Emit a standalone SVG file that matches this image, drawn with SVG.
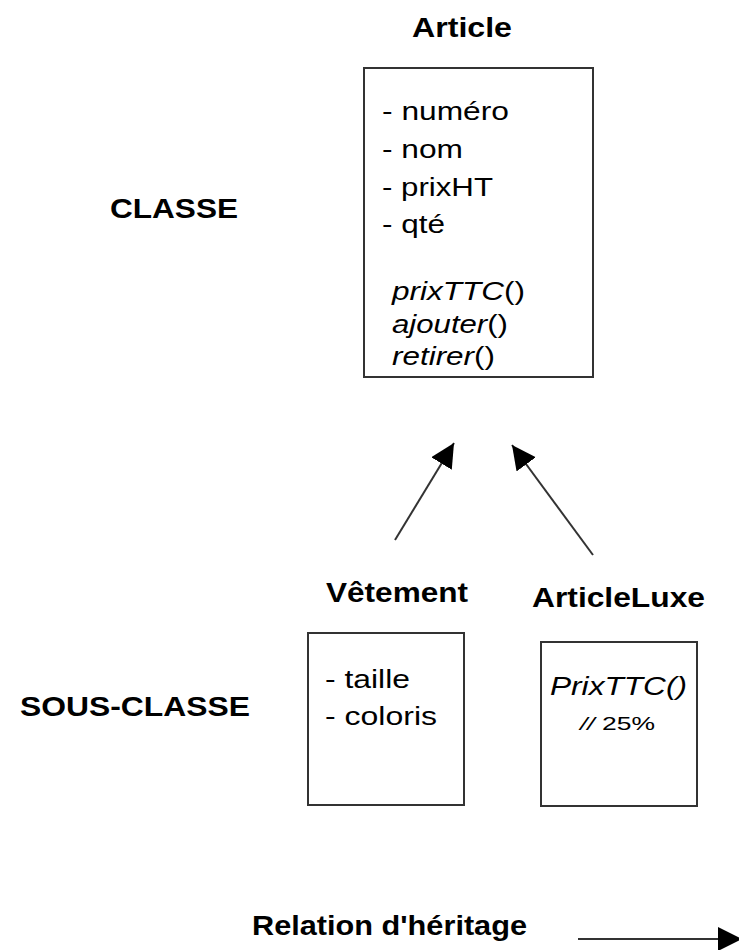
<svg xmlns="http://www.w3.org/2000/svg" width="739" height="950" viewBox="0 0 739 950">
<style>
.box{fill:#fff;stroke:#333;stroke-width:2}
.t{font-family:"Liberation Sans",Arial,sans-serif;fill:#000}
.b{font-weight:bold;font-size:28px}
.r{font-size:25.5px}
.i{font-style:italic}
.c{stroke:#333;stroke-width:2;fill:none}
</style>
<defs>
<marker id="ah" markerUnits="userSpaceOnUse" markerWidth="26" markerHeight="26" refX="24" refY="12" orient="auto">
<path d="M0,0 L24,12 L0,24 z" fill="#000"/>
</marker>
</defs>
<rect width="739" height="950" fill="#fff"/>
<text class="t b" x="110" y="218" font-size="29" textLength="128" lengthAdjust="spacingAndGlyphs">CLASSE</text>
<text class="t b" x="20" y="716" textLength="230" lengthAdjust="spacingAndGlyphs">SOUS-CLASSE</text>
<g id="article">
<text class="t b" x="412" y="37" textLength="100" lengthAdjust="spacingAndGlyphs">Article</text>
<rect class="box" x="364" y="68" width="229" height="309"/>
<text class="t r" x="382" y="120" textLength="127" lengthAdjust="spacingAndGlyphs">- numéro</text>
<text class="t r" x="382" y="158" textLength="81" lengthAdjust="spacingAndGlyphs">- nom</text>
<text class="t r" x="382" y="196" textLength="111" lengthAdjust="spacingAndGlyphs">- prixHT</text>
<text class="t r" x="382" y="233" textLength="63" lengthAdjust="spacingAndGlyphs">- qté</text>
<text class="t r" x="392" y="300" textLength="133" lengthAdjust="spacingAndGlyphs"><tspan class="i">prixTTC</tspan>()</text>
<text class="t r" x="392" y="333" textLength="116" lengthAdjust="spacingAndGlyphs"><tspan class="i">ajouter</tspan>()</text>
<text class="t r" x="392" y="365" textLength="103" lengthAdjust="spacingAndGlyphs"><tspan class="i">retirer</tspan>()</text>
</g>
<g id="vetement">
<text class="t b" x="326" y="602" textLength="142" lengthAdjust="spacingAndGlyphs">Vêtement</text>
<rect class="box" x="308" y="633" width="156" height="172"/>
<text class="t r" x="325" y="688" textLength="85" lengthAdjust="spacingAndGlyphs">- taille</text>
<text class="t r" x="325" y="725" textLength="112" lengthAdjust="spacingAndGlyphs">- coloris</text>
</g>
<g id="articleluxe">
<text class="t b" x="532" y="607" textLength="173" lengthAdjust="spacingAndGlyphs">ArticleLuxe</text>
<rect class="box" x="541" y="642" width="156" height="164"/>
<text class="t r i" x="550" y="695" textLength="137" lengthAdjust="spacingAndGlyphs">PrixTTC()</text>
<text class="t" x="580" y="730" font-size="19" textLength="75" lengthAdjust="spacingAndGlyphs"><tspan class="i">//</tspan> 25%</text>
</g>
<g id="legend">
<text class="t b" x="252" y="935" textLength="275" lengthAdjust="spacingAndGlyphs">Relation d'héritage</text>
</g>
<g id="connectors">
<line class="c" x1="395" y1="540" x2="454" y2="443" marker-end="url(#ah)"/>
<line class="c" x1="593" y1="555" x2="512" y2="445" marker-end="url(#ah)"/>
<line class="c" x1="578" y1="939" x2="742" y2="939" marker-end="url(#ah)"/>
</g>
</svg>
